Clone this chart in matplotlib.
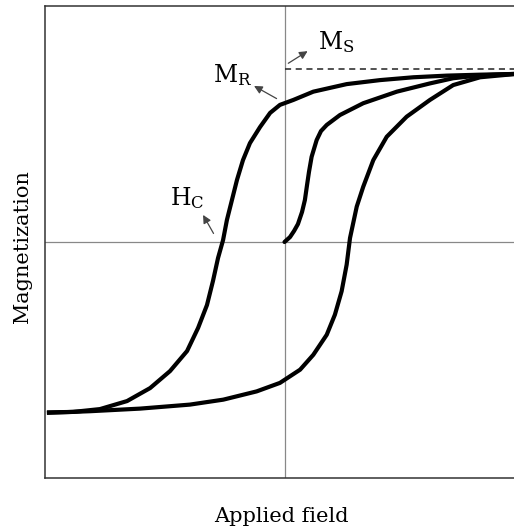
import numpy as np
import matplotlib
matplotlib.use('Agg')
import matplotlib.pyplot as plt

plt.rcParams['font.family'] = 'DejaVu Serif'
plt.rcParams['mathtext.fontset'] = 'dejavuserif'

# ramo descendente (de H+ para H-)
x_desc = [0.98, 0.953, 0.815, 0.676, 0.537, 0.398, 0.259, 0.12, 0.037, -0.019, -0.06,
          -0.102, -0.144, -0.173, -0.198, -0.219, -0.24, -0.256, -0.277, -0.298, -0.323,
          -0.36, -0.406, -0.477, -0.56, -0.656, -0.769, -0.881, -0.99]
y_desc = [0.713, 0.712, 0.709, 0.705, 0.698, 0.686, 0.669, 0.637, 0.602, 0.581, 0.547,
          0.487, 0.419, 0.347, 0.263, 0.178, 0.093, 0.008, -0.068, -0.165, -0.267,
          -0.364, -0.462, -0.547, -0.619, -0.674, -0.708, -0.72, -0.722]

# ramo ascendente (de H- para H+)
x_asc = [-0.99, -0.81, -0.602, -0.394, -0.255, -0.116, -0.019, 0.065, 0.12, 0.176,
         0.21, 0.238, 0.259, 0.273, 0.301, 0.328, 0.37, 0.426, 0.509, 0.606, 0.703,
         0.815, 0.953, 0.98]
y_asc = [-0.724, -0.717, -0.706, -0.689, -0.668, -0.633, -0.597, -0.541, -0.478, -0.393,
         -0.308, -0.209, -0.096, 0.017, 0.15, 0.234, 0.347, 0.446, 0.531, 0.602, 0.665,
         0.698, 0.711, 0.713]

# curva inicial (virgem)
x_ini = [0.0, 0.023, 0.04, 0.056, 0.073, 0.085, 0.094, 0.102, 0.113, 0.134, 0.152,
         0.176, 0.231, 0.328, 0.468, 0.606, 0.703, 0.815, 0.953, 0.98]
y_ini = [0.0, 0.021, 0.047, 0.076, 0.127, 0.178, 0.242, 0.297, 0.361, 0.432, 0.47,
         0.496, 0.538, 0.588, 0.637, 0.672, 0.694, 0.706, 0.712, 0.713]

m_sat = 0.733

fig = plt.figure(figsize=(5.14, 5.30), dpi=100)
ax = fig.add_axes([44.5/514, 52/530, 480/514, 472/530])
ax.set_xlim(-1, 1)
ax.set_ylim(-1, 1)
ax.set_xticks([])
ax.set_yticks([])
for s in ax.spines.values():
    s.set_linewidth(1.1)
    s.set_color('#333333')

ax.axhline(0, color='#888888', lw=0.9)
ax.axvline(0, color='#888888', lw=0.9)
ax.plot([0, 1], [m_sat, m_sat], ls=(0, (4, 3)), color='#222222', lw=1.1)

ax.plot(x_desc, y_desc, color='black', lw=3, solid_capstyle='butt', solid_joinstyle='round')
ax.plot(x_asc, y_asc, color='black', lw=3, solid_capstyle='butt', solid_joinstyle='round')
ax.plot(x_ini, y_ini, color='black', lw=3, solid_capstyle='round', solid_joinstyle='round')

arrow = dict(arrowstyle='-|>', color='#444444', lw=0.9, mutation_scale=12)
ax.annotate('', xy=(0.106, 0.815), xytext=(0.006, 0.751), arrowprops=arrow)
ax.annotate('', xy=(-0.137, 0.667), xytext=(-0.023, 0.602), arrowprops=arrow)
ax.annotate('', xy=(-0.345, 0.125), xytext=(-0.29, 0.026), arrowprops=arrow)

ax.text(0.141, 0.819, r'M$_{\mathrm{S}}$', fontsize=17, ha='left', va='baseline')
ax.text(-0.298, 0.676, r'M$_{\mathrm{R}}$', fontsize=17, ha='left', va='baseline')
ax.text(-0.477, 0.157, r'H$_{\mathrm{C}}$', fontsize=17, ha='left', va='baseline')

fig.text(281.5/514, 1 - 516/530, 'Applied field', fontsize=15, ha='center', va='center')
fig.text(22.5/514, 1 - 247/530, 'Magnetization', fontsize=15, ha='center', va='center',
         rotation=90)

fig.savefig('out.png', dpi=100)
